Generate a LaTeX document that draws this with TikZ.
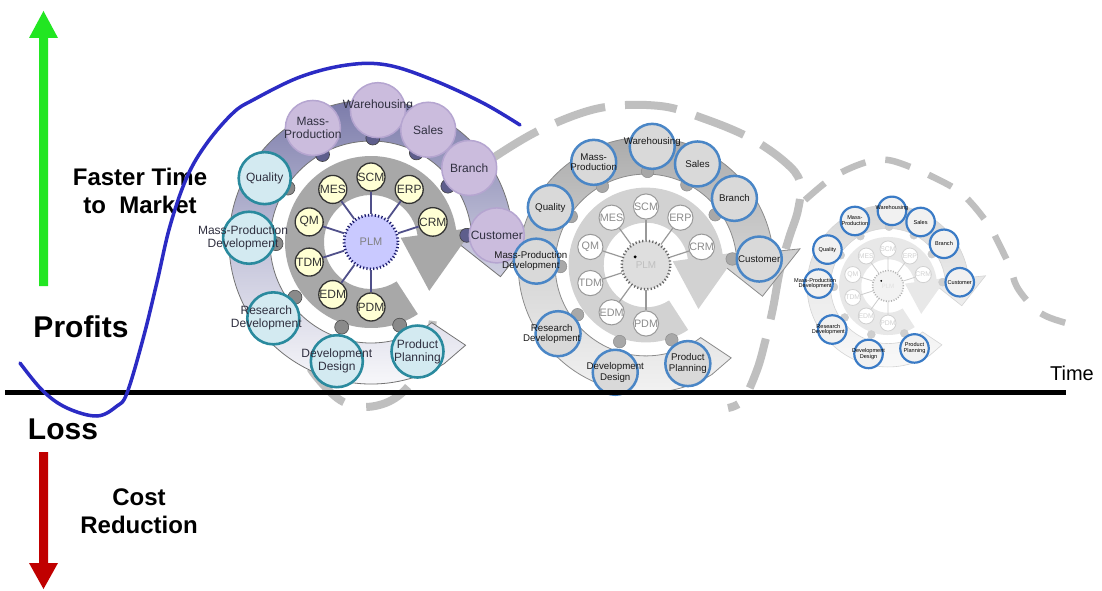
\documentclass[tikz,border=0pt]{standalone}
\usepackage{fontspec}
\setmainfont{Liberation Sans}
\definecolor{grn}{HTML}{22E622}
\definecolor{rd}{HTML}{C00000}
\definecolor{curveblue}{HTML}{2B2BC4}
\definecolor{spg}{HTML}{BFBFBF}
% cycle 1
\definecolor{aTop}{HTML}{7878A8}
\definecolor{aMid}{HTML}{C4C4DA}
\definecolor{aRing}{HTML}{A8A8A8}
\definecolor{aDotA}{HTML}{8A8A8A}
\definecolor{aDotB}{HTML}{5E5E8C}
\definecolor{aSpoke}{HTML}{50508A}
\definecolor{aSat}{HTML}{FFFFD4}
\definecolor{aPlm}{HTML}{C9C9FF}
\definecolor{aPlmB}{HTML}{1C1C6C}
\definecolor{aBlueF}{HTML}{D3EAF1}
\definecolor{aBlueD}{HTML}{2A8A9E}
\definecolor{aPurF}{HTML}{CBBCDD}
\definecolor{aPurD}{HTML}{B5A5D0}
\definecolor{aTxt}{HTML}{303040}
% cycle 2
\definecolor{bTop}{HTML}{A9A9A9}
\definecolor{bMid}{HTML}{D6D6D6}
\definecolor{bBot}{HTML}{F6F6F6}
\definecolor{bRing}{HTML}{D2D2D2}
\definecolor{bDot}{HTML}{A8A8A8}
\definecolor{bCirF}{HTML}{D9D9D9}
\definecolor{bCirD}{HTML}{4A86C6}
% cycle 3
\definecolor{cTop}{HTML}{D6D6D6}
\definecolor{cMid}{HTML}{EBEBEB}
\definecolor{cBot}{HTML}{FBFBFB}
\definecolor{cRing}{HTML}{E8E8E8}
\definecolor{cDot}{HTML}{CFCFCF}
\definecolor{cCirF}{HTML}{F1F1F1}
\definecolor{cCirD}{HTML}{3A7BC6}

\newcommand\cycleback[1]{%
  \path[cband] (-53:101) -- (-47.5:140) -- (-59:142)
     arc[start angle=-59,end angle=-354,radius=142] -- (6:172) -- (-15:134) -- (6:76) -- (6:101)
     arc[start angle=6,end angle=307,radius=101] -- cycle;
  \path[cring] (-57:86) arc[start angle=-57,end angle=-352,radius=86] -- (8:104) -- (-40:76)
     -- (8:30) -- (8:47) arc[start angle=8,end angle=303,radius=47] -- cycle;
}
\newcommand\cyclefront[1]{%
  \foreach \p in {147:99,181:95,216:94,251:90,289:88} \path[cdotA] (\p) circle[radius=7];
  \foreach \p in {119:100,89:104,63:100,36:95,4:96} \path[cdotB] (\p) circle[radius=7];
  \node[cplm] (#1plm) at (0,0) {PLM};
  \path[cplmdot] (-12,9) circle[radius=1.8];
  \foreach \a/\nm in {90/SCM,54/ERP,18/CRM,-90/PDM,-126/EDM,-162/TDM,162/QM,126/MES}{
    \node[csat] (#1\nm) at (\a:65) {\nm};
    \draw[cspoke] (#1plm) -- (#1\nm);
  }
  \node[coutA] (#1qual) at (149:124) {};
  \node[clbl] (#1qualt) at (#1qual) {Quality};
  \node[coutA] (#1mpd) at (178:122) {};
  \node[clbl, xshift=-6pt] (#1mpdt) at (#1mpd) {Mass-Production\\Development};
  \node[coutA] (#1res) at (218:124) {};
  \node[clbl, xshift=-7pt] (#1rest) at (#1res) {Research\\Development};
  \node[coutA] (#1dd) at (254:124) {};
  \node[clbl] (#1ddt) at (#1dd) {Development\\Design};
  \node[coutA] (#1pp) at (293:119) {};
  \node[clbl] (#1ppt) at (#1pp) {Product\\Planning};
  \node[coutB] (#1mp) at (117:128) {};
  \node[clbl] (#1mpt) at (#1mp) {Mass-\\Production};
  \node[coutB] (#1ware) at (87:132) {};
  \node[clbl, yshift=5pt] (#1waret) at (#1ware) {Warehousing};
  \node[coutB] (#1sales) at (63:126) {};
  \node[clbl] (#1salest) at (#1sales) {Sales};
  \node[coutB] (#1br) at (37:123) {};
  \node[clbl] (#1brt) at (#1br) {Branch};
  \node[coutB] (#1cu) at (3:126) {};
  \node[clbl] (#1cut) at (#1cu) {Customer};
}

\tikzset{
  spiral/.style={draw=spg, line width=8pt},
  bigtxt/.style={font=\fontsize{30}{34}\selectfont\bfseries, inner sep=0},
  midtxt/.style={font=\fontsize{24}{28}\selectfont\bfseries, align=center, inner sep=0},
  cyc1/.style={shift={(371,348)}, transform shape,
    cband/.style={draw=black!55, line width=0.8pt, top color=aTop, bottom color=white, middle color=aMid},
    cring/.style={fill=aRing},
    cdotA/.style={fill=aDotA, draw=black!70, line width=0.6pt},
    cdotB/.style={fill=aDotB, draw=black!75, line width=0.6pt},
    cspoke/.style={draw=aSpoke, line width=1.8pt},
    csat/.style={circle, fill=aSat, draw=black!80, line width=1.3pt, minimum size=28pt, inner sep=0pt,
      font=\fontsize{12}{12}\selectfont, text=black!80},
    cplm/.style={circle, fill=aPlm, draw=aPlmB, line width=2.8pt, dash pattern=on 1.2pt off 2.2pt,
      minimum size=54pt, inner sep=0pt, font=\fontsize{11}{11}\selectfont, text=black!50},
    cplmdot/.style={},
    coutA/.style={circle, fill=aBlueF, draw=aBlueD, line width=2.6pt, minimum size=52pt, inner sep=0pt},
    coutB/.style={circle, fill=aPurF, draw=aPurD, line width=1.5pt, minimum size=55pt, inner sep=0pt},
    clbl/.style={align=center, font=\fontsize{12}{13}\selectfont, text=aTxt, inner sep=0pt}},
  cyc2/.style={shift={(646,325)}, scale=0.9, transform shape,
    cband/.style={draw=black!45, line width=0.8pt, top color=bTop, bottom color=bBot, middle color=bMid},
    cring/.style={fill=bRing},
    cdotA/.style={fill=bDot, draw=black!45, line width=0.5pt},
    cdotB/.style={fill=bDot, draw=black!45, line width=0.5pt},
    cspoke/.style={draw=black!40, line width=1.2pt},
    csat/.style={circle, fill=white, draw=black!40, line width=1pt, minimum size=28pt, inner sep=0pt,
      font=\fontsize{12}{12}\selectfont, text=black!45},
    cplm/.style={circle, fill=black!13, draw=black!60, line width=2.5pt, dash pattern=on 1.2pt off 2.2pt,
      minimum size=54pt, inner sep=0pt, font=\fontsize{11}{11}\selectfont, text=black!25},
    cplmdot/.style={fill=black},
    coutA/.style={circle, fill=bCirF, draw=bCirD, line width=2.5pt, minimum size=50pt, inner sep=0pt},
    coutB/.style={circle, fill=bCirF, draw=bCirD, line width=2.5pt, minimum size=50pt, inner sep=0pt},
    clbl/.style={align=center, font=\fontsize{10.8}{11.6}\selectfont, text=black!90, inner sep=0pt}},
  cyc3/.style={shift={(888,304)}, scale=0.57, transform shape,
    cband/.style={draw=black!17, line width=0.6pt, top color=cTop, bottom color=cBot, middle color=cMid},
    cring/.style={fill=cRing},
    cdotA/.style={fill=cDot, draw=black!20, line width=0.4pt},
    cdotB/.style={fill=cDot, draw=black!20, line width=0.4pt},
    cspoke/.style={draw=black!20, line width=0.8pt},
    csat/.style={circle, fill=white, draw=black!18, line width=0.8pt, minimum size=28pt, inner sep=0pt,
      font=\fontsize{12}{12}\selectfont, text=black!18},
    cplm/.style={circle, fill=black!5, draw=black!30, line width=1.6pt, dash pattern=on 1pt off 1.6pt,
      minimum size=54pt, inner sep=0pt, font=\fontsize{11}{11}\selectfont, text=black!12},
    cplmdot/.style={fill=black},
    coutA/.style={circle, fill=cCirF, draw=cCirD, line width=2.2pt, minimum size=50pt, inner sep=0pt},
    coutB/.style={circle, fill=cCirF, draw=cCirD, line width=2.2pt, minimum size=50pt, inner sep=0pt},
    clbl/.style={align=center, font=\fontsize{9.8}{10.4}\selectfont, text=black, inner sep=0pt}}
}

\begin{document}
\begin{tikzpicture}[x=1pt,y=1pt]
\useasboundingbox (0,0) rectangle (1102,590);
\fill[white] (0,0) rectangle (1102,590);

% dashed spirals
\draw[spiral, dash pattern=on 48pt off 23pt, dash phase=62pt] plot[smooth, tension=0.6] coordinates
  {(434,278) (428,245) (413,210) (392,190) (365,183) (340,190) (315,215) (300,240)};
\draw[spiral, dash pattern=on 52pt off 20pt] plot[smooth, tension=0.6] coordinates
  {(493,432) (540,460) (600,482) (660,484) (705,471) (750,452) (785,428) (800,408) (798,380)
   (789,352) (780,320) (773,282) (766,252) (757,220) (743,190) (728,182)};
\draw[spiral, line width=6.5pt, dash pattern=on 26pt off 20pt] plot[smooth, tension=0.6] coordinates
  {(805,390) (825,407) (842,418) (867,428) (888,430) (913,422) (933,413) (957,400) (973,385)
   (990,363) (998,348) (1010,323) (1017,303) (1033,283) (1048,273) (1073,265)};

% cycles: bands and rings
\begin{scope}[cyc1] \cycleback{a} \end{scope}
\begin{scope}[cyc2] \cycleback{b} \end{scope}
\begin{scope}[cyc3] \cycleback{c} \end{scope}
% cycles: hubs and circles
\begin{scope}[cyc1] \cyclefront{a} \end{scope}
\begin{scope}[cyc2] \cyclefront{b} \end{scope}
\begin{scope}[cyc3] \cyclefront{c} \end{scope}

% time axis
\coordinate (axl) at (5,198);
\coordinate (axr) at (1066,198);
\draw[line width=5pt] (axl) -- (axr);
\node[font=\fontsize{20}{22}\selectfont, inner sep=0] (time) at (1072,217) {Time};

% vertical arrows
\fill[grn] (39,304) -- (39,552) -- (29,552) -- (43.5,579) -- (58,552) -- (48,552) -- (48,304) -- cycle;
\fill[rd] (39,138) -- (39,27) -- (29,27) -- (43.5,1) -- (58,27) -- (48,27) -- (48,138) -- cycle;

% texts
\node[midtxt] (faster) at (140,399) {Faster Time\\to\ \ Market};
\node[bigtxt] (profits) at (81,263) {Profits};
\node[bigtxt] (loss) at (63,161) {Loss};
\node[midtxt] (cost) at (139,79) {Cost\\Reduction};

% profit curve
\draw[curveblue, line width=3.5pt, line cap=round] plot[smooth, tension=0.6] coordinates
  {(20,227) (43,199) (67,182) (97,174) (117,184) (127,197) (143,251) (157,308) (170,364)
   (187,413) (207,447) (233,477) (253,490) (300,513) (347,525) (387,525) (433,510) (483,487) (520,465)};
\end{tikzpicture}
\end{document}
